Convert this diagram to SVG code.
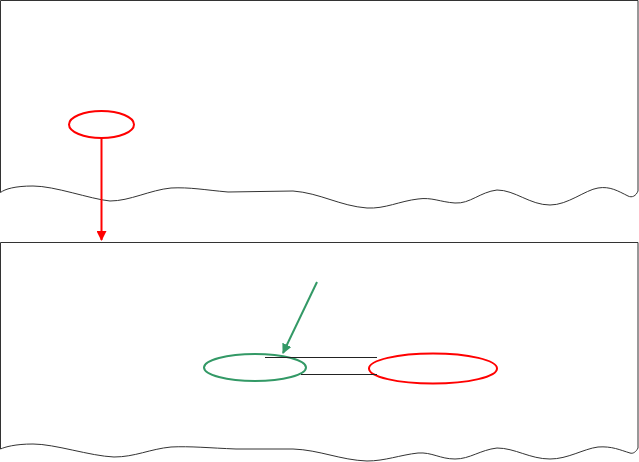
<svg xmlns="http://www.w3.org/2000/svg" width="639" height="462" viewBox="0 0 639 462">
<defs>
<style>
.panel{fill:#fff;stroke:#333;stroke-width:1}
.red{fill:none;stroke:#ff0000;stroke-width:2}
.green{fill:none;stroke:#339966;stroke-width:2}
.line{fill:none;stroke:#222;stroke-width:1}
</style>
<marker id="ar" viewBox="0 0 10 10" refX="9" refY="5" markerWidth="5" markerHeight="5" orient="auto-start-reverse" markerUnits="strokeWidth">
<path d="M0,0L10,5L0,10z" fill="#ff0000"/>
</marker>
<marker id="ag" viewBox="0 0 10 10" refX="9" refY="5" markerWidth="5" markerHeight="5" orient="auto-start-reverse" markerUnits="strokeWidth">
<path d="M0,0L10,5L0,10z" fill="#339966"/>
</marker>
</defs>
<g id="panel-top">
<path class="panel" d="M0.5,192.5 L0.5,0.5 L638,0.5 L638,191 C636,196 632,198 628,196 C618,191 610,186 598,188 C585,190 568,205 550,205 C530,205 515,190 497,190 C480,192 470,204 455,203 C440,202 432,197 418,199 C400,201 385,209 367,208 C340,206 320,193 293,191 L228,192 C205,190 190,187 171,188 C150,190 130,201 110,201 C90,199 55,186 33,186 C15,186 5,189 0.5,192.5 Z"/>
</g>
<g id="panel-bottom">
<path class="panel" d="M0.5,449 L0.5,242.5 L638,242.5 L638,448 C636,452 633,454 630,453 C620,450 612,446 598,447 C583,449 568,459 550,459 C530,459 515,448 497,448 C480,450 470,459 455,459 C440,459 432,452 418,453 C400,455 385,461 367,461 C340,460 320,450 293,449 L236,449 C210,448 190,446 171,447 C150,449 135,457 114,457 C90,456 55,444 33,444 C15,444 5,447 0.5,449 Z"/>
</g>
<g id="node-red-top">
<ellipse class="red" cx="101.5" cy="124.5" rx="32.5" ry="13.5"/>
</g>
<g id="node-green">
<ellipse class="green" cx="255" cy="367.5" rx="51" ry="13.5"/>
</g>
<g id="node-red-bottom">
<ellipse class="red" cx="433" cy="368.5" rx="64" ry="15"/>
</g>
<g id="connectors">
<line class="red" x1="101.5" y1="138" x2="101.5" y2="240" marker-end="url(#ar)"/>
<line class="green" x1="317" y1="282" x2="283" y2="353" marker-end="url(#ag)"/>
<line class="line" x1="265" y1="357.5" x2="377" y2="357.5"/>
<line class="line" x1="301" y1="374.5" x2="377" y2="374.5"/>
</g>
</svg>
